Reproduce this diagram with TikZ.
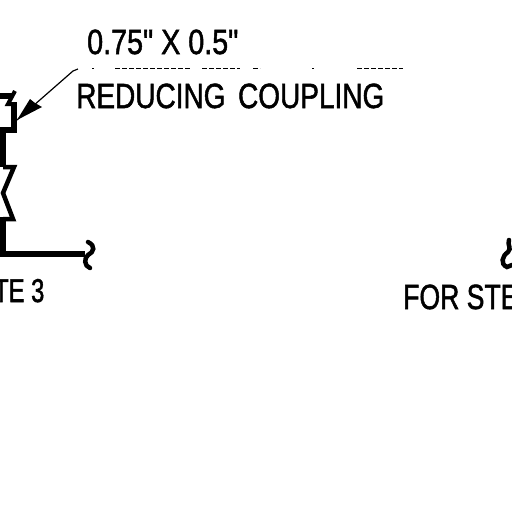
\documentclass[tikz,border=0pt]{standalone}
\usepackage{fontspec}
\setmainfont[Ligatures=TeXOff,FakeBold=1.6]{Liberation Sans}
\tikzset{
  pipe/.style={line width=6pt,line join=miter,line cap=butt},
  zig/.style={line width=4.5pt,line join=miter,line cap=butt},
  breakmark/.style={line width=4.5pt,line cap=round},
  lbl/.style={inner sep=0pt,anchor=base west,font=\fontsize{35}{35}\selectfont},
  leader/.style={line width=1.2pt},
  faint/.style={line width=0.9pt}
}
\begin{document}
\begin{tikzpicture}[x=1pt,y=-1pt]
\useasboundingbox (0,0) rectangle (512,512);
\clip (0,0) rectangle (512,512);
\fill[white] (0,0) rectangle (512,512);
% pipe run
\draw[pipe] (0,96) -- (13,96);
\draw[pipe,line width=4pt] (15,91) -- (8,104) -- (14,104);
\draw[pipe] (14,102) -- (14,130) -- (3,130) -- (3,167);
\draw[zig] (3,167) -- (14,167) -- (3,193) -- (13,219) -- (3,219);
\draw[pipe] (3,217) -- (3,254) -- (85,254);
\draw[breakmark] (88,242) .. controls (96,246) and (94,252) .. (88,255) .. controls (84,258) and (84,266) .. (90,268);
\draw[breakmark] (509,240) .. controls (507,245) and (512,248) .. (508,252) .. controls (502,256) and (500,264) .. (507,267) -- (512,265);
% leader
\coordinate (tip) at (17,120);
\coordinate (bend) at (73,71);
\coordinate (lend) at (408,69);
\draw[leader] (tip) -- (bend) -- (78,69);
\fill (tip) -- (30,99) -- (35,103) -- (42,107) -- cycle;
\foreach \a/\b in {92/94,115/190,202/240,253/260,312/314,357/403}
  \draw[faint,dash pattern=on 5pt off 2pt] (\a,68.5) -- (\b,68.5);
% labels
\node[lbl] (size) at (87,54) {\scalebox{0.82}[1]{0.75" X 0.5"}};
\node[lbl] (coupling) at (76,108) {\scalebox{0.8}[1]{REDUCING\hspace{6pt} COUPLING}};
\node[lbl,font=\fontsize{33}{33}\selectfont] (note) at (-6,302) {\scalebox{0.72}[1]{TE 3}};
\node[lbl] (for) at (403,309) {\scalebox{0.76}[1]{FOR STE}};
\end{tikzpicture}
\end{document}
